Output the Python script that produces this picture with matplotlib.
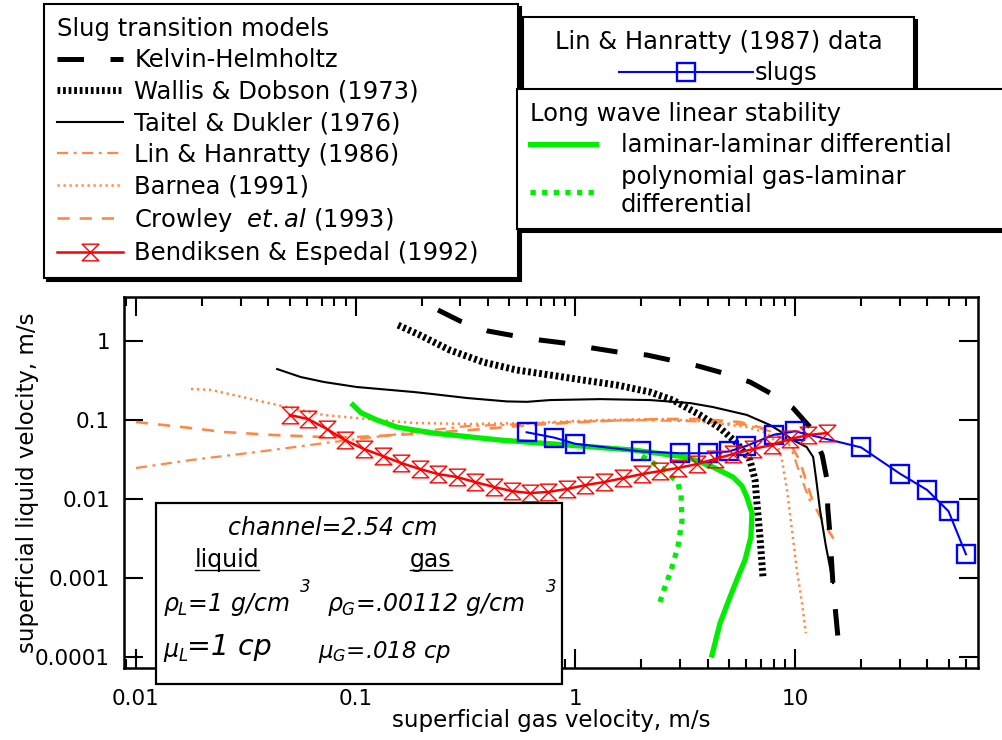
import numpy as np
import matplotlib
matplotlib.use('Agg')
import matplotlib.pyplot as plt
from matplotlib.lines import Line2D
from matplotlib.patches import Rectangle
from matplotlib.path import Path
from matplotlib.ticker import FixedLocator, FixedFormatter, NullLocator, NullFormatter, LogLocator

plt.rcParams['font.family'] = ['DejaVu Sans']

# Slug transition models (gas velocity, liquid velocity)
kh_x = [0.237, 0.299, 0.40, 0.505, 0.69, 0.90, 1.20, 1.56, 2.12, 2.70, 3.62, 4.70, 6.24, 7.69,
        9.79, 11.7, 13.3, 14.0, 14.1, 14.4, 14.9, 15.7]
kh_y = [2.47, 1.79, 1.34, 1.19, 1.03, 0.94, 0.815, 0.726, 0.665, 0.575, 0.483, 0.394, 0.303, 0.22,
        0.142, 0.0815, 0.036, 0.0174, 0.0077, 0.0038, 0.00081, 0.000174]

wd_x = [0.156, 0.196, 0.268, 0.38, 0.54, 0.77, 1.08, 1.55, 2.19, 2.78, 3.69, 4.56, 5.44, 6.24,
        6.58, 6.71, 6.93, 7.15]
wd_y = [1.59, 1.19, 0.769, 0.542, 0.43, 0.371, 0.321, 0.277, 0.226, 0.179, 0.116, 0.079, 0.051,
        0.031, 0.0174, 0.0089, 0.0033, 0.00103]

td_x = [0.0439, 0.0563, 0.0718, 0.101, 0.185, 0.225, 0.321, 0.489, 0.603, 0.767, 1.30, 2.19, 3.33,
        4.23, 6.04, 7.69, 8.82, 9.79, 11.3, 12.1, 12.5, 13.0, 13.8, 14.9]
td_y = [0.442, 0.350, 0.303, 0.262, 0.226, 0.213, 0.190, 0.172, 0.170, 0.179, 0.184, 0.179, 0.164,
        0.146, 0.116, 0.0865, 0.0685, 0.0558, 0.0455, 0.034, 0.0174, 0.00726, 0.00262, 0.000865]

lh_x = [0.01, 0.0178, 0.0356, 0.0718, 0.145, 0.225, 0.321, 0.454, 0.917, 1.83, 3.22, 4.23, 6.04,
        7.94, 9.20, 9.79, 10.5, 11.2, 11.9]
lh_y = [0.0247, 0.0312, 0.0394, 0.051, 0.0646, 0.0747, 0.0839, 0.0865, 0.0944, 0.1, 0.097, 0.0944,
        0.0865, 0.0705, 0.0558, 0.0382, 0.0213, 0.013, 0.0084]

barnea_x = [0.0178, 0.0220, 0.0279, 0.0383, 0.0508, 0.0718, 0.101, 0.185, 0.331, 0.622, 1.30, 2.43,
            3.69, 6.04, 7.46, 8.28, 8.73, 9.20, 9.69, 10.2, 10.8, 11.2]
barnea_y = [0.247, 0.240, 0.207, 0.169, 0.142, 0.1157, 0.106, 0.0917, 0.089, 0.0917, 0.1, 0.103,
            0.097, 0.0815, 0.0685, 0.051, 0.031, 0.013, 0.00405, 0.00126, 0.000455, 0.000201]

crowley_x = [0.01, 0.0178, 0.0252, 0.0425, 0.0718, 0.101, 0.185, 0.331, 0.622, 1.30, 2.43, 3.69,
             5.62, 7.69, 9.48, 10.5, 11.2, 12.2, 13.7, 15.1]
crowley_y = [0.0944, 0.0792, 0.0705, 0.0646, 0.061, 0.061, 0.0665, 0.0747, 0.0865, 0.097, 0.103,
             0.103, 0.0944, 0.0747, 0.051, 0.031, 0.0174, 0.0084, 0.00469, 0.00303]

be_x = [0.0502, 0.0607, 0.0741, 0.0893, 0.109, 0.133, 0.161, 0.196, 0.237, 0.289, 0.349, 0.427,
        0.515, 0.622, 0.752, 0.917, 1.11, 1.35, 1.65, 2.01, 2.43, 2.93, 3.58, 4.32, 5.22, 6.44,
        7.85, 9.48, 11.5, 14.0]
be_y = [0.1157, 0.103, 0.0769, 0.0558, 0.0430, 0.0350, 0.0286, 0.0240, 0.0207, 0.0190, 0.0164,
        0.0142, 0.0126, 0.0119, 0.0123, 0.0134, 0.0150, 0.0164, 0.0184, 0.0207, 0.0226, 0.0247,
        0.0277, 0.0321, 0.0371, 0.0430, 0.0483, 0.0574, 0.0646, 0.0685]

# Lin & Hanratty (1987) slug data
slug_x = [0.6, 0.8, 1, 2, 3, 4, 5, 6, 8, 10, 20, 30, 40, 50, 60]
slug_y = [0.07, 0.06, 0.05, 0.04, 0.038, 0.038, 0.04, 0.047, 0.065, 0.072, 0.045, 0.021, 0.013,
          0.007, 0.002]

# Long wave linear stability
lam_x = [0.0973, 0.106, 0.125, 0.154, 0.185, 0.225, 0.454, 0.917, 1.83, 3.22, 4.23, 5.22, 5.74,
         6.04, 6.37, 6.30, 5.92, 5.50, 5.06, 4.56, 4.19]
lam_y = [0.155, 0.123, 0.1, 0.0815, 0.0747, 0.0685, 0.0558, 0.0483, 0.0417, 0.034, 0.0254, 0.019,
         0.0146, 0.0106, 0.00665, 0.0033, 0.00169, 0.00103, 0.000574, 0.000269, 0.000106]

poly_x = [2.01, 2.26, 2.48, 2.70, 2.93, 3.03, 3.06, 2.93, 2.73, 2.53, 2.38]
poly_y = [0.035, 0.0286, 0.0247, 0.0201, 0.016, 0.0112, 0.00542, 0.00247, 0.00126, 0.000705,
          0.000417]

x_ticks = [0.01, 0.1, 1, 10]
x_ticklabels = ['0.01', '0.1', '1', '10']
y_ticks = [0.0001, 0.001, 0.01, 0.1, 1]
y_ticklabels = ['0.0001', '0.001', '0.01', '0.1', '1']

W, H = 1003, 740


def fx(px):
    return px / W


def fy(py):
    return 1 - py / H


orange = '#ff8844'
green = '#00ee00'
hourglass = Path([(-1, 1), (1, 1), (-1, -1), (1, -1), (-1, 1)],
                 [Path.MOVETO, Path.LINETO, Path.LINETO, Path.LINETO, Path.CLOSEPOLY])

fig = plt.figure(figsize=(W / 100, H / 100), dpi=100)
ax = fig.add_axes([fx(124), fy(668), fx(978) - fx(124), fy(297) - fy(668)])
ax.set_xscale('log')
ax.set_yscale('log')

lh, = ax.plot(lh_x, lh_y, color=orange, lw=1.6, dashes=(5, 2.5, 1.3, 2.5))
barnea, = ax.plot(barnea_x, barnea_y, color=orange, lw=1.8, dashes=(0.9, 1.5))
crowley, = ax.plot(crowley_x, crowley_y, color=orange, lw=1.9, dashes=(4.6, 3.8))
td, = ax.plot(td_x, td_y, color='k', lw=1.5)
wd, = ax.plot(wd_x, wd_y, color='k', lw=5, dashes=(0.4, 0.4))
kh, = ax.plot(kh_x, kh_y, color='k', lw=3.6, dashes=(5.3, 5.3))
lam, = ax.plot(lam_x, lam_y, color=green, lw=3.8)
poly, = ax.plot(poly_x, poly_y, color=green, lw=3.8, dashes=(1, 1.2))
slugs, = ax.plot(slug_x, slug_y, color='#0000ff', lw=1.5, marker='s', ms=12.5, mfc='none', mew=1.7)
be, = ax.plot(be_x, be_y, color='#ff0000', lw=1.8, marker=hourglass, ms=12, mfc='none', mew=1.0)

ax.set_xlim(0.00882, 68.1)
ax.set_ylim(7.26e-5, 3.61)

ax.xaxis.set_major_locator(FixedLocator(x_ticks))
ax.xaxis.set_major_formatter(FixedFormatter(x_ticklabels))
ax.xaxis.set_minor_locator(LogLocator(base=10, subs=np.arange(2, 10)))
ax.xaxis.set_minor_formatter(NullFormatter())
ax.yaxis.set_major_locator(FixedLocator(y_ticks))
ax.yaxis.set_major_formatter(FixedFormatter(y_ticklabels))
ax.yaxis.set_minor_locator(NullLocator())

ax.tick_params(which='both', direction='in', top=True, right=True, width=1.5, labelsize=15.5)
ax.tick_params(which='major', length=14)
ax.tick_params(which='minor', length=6.5)
ax.tick_params(axis='x', which='major', pad=15)
ax.tick_params(axis='y', which='major', pad=10)
for sp in ax.spines.values():
    sp.set_linewidth(1.8)

ax.set_xlabel('superficial gas velocity, m/s', fontsize=16.5, labelpad=0)
ax.set_ylabel('superficial liquid velocity, m/s', fontsize=16.5, labelpad=-3)

# fluid property box
ax.add_patch(Rectangle((fx(156), fy(684)), fx(562) - fx(156), fy(503) - fy(684),
                       transform=fig.transFigure, facecolor='white', edgecolor='k',
                       lw=1.6, clip_on=False, zorder=5))
tkw = dict(transform=fig.transFigure, zorder=6, va='center', style='italic')
ax.text(fx(333), fy(528), 'channel=2.54 cm', ha='center', fontsize=17, **tkw)
t_liq = ax.text(fx(227), fy(560), 'liquid', ha='center', fontsize=17, transform=fig.transFigure,
                zorder=6, va='center')
t_gas = ax.text(fx(431), fy(560), 'gas', ha='center', fontsize=17, transform=fig.transFigure,
                zorder=6, va='center')
ax.text(fx(163), fy(605), r'$\rho_L$=1 g/cm', ha='left', fontsize=17, **tkw)
ax.text(fx(305), fy(587), '3', ha='center', fontsize=12, **tkw)
ax.text(fx(327), fy(605), r'$\rho_G$=.00112 g/cm', ha='left', fontsize=17, **tkw)
ax.text(fx(551), fy(587), '3', ha='center', fontsize=12, **tkw)
ax.text(fx(163), fy(652), r'$\mu_L$', ha='left', fontsize=17, **tkw)
ax.text(fx(187), fy(647), '=1 cp', ha='left', fontsize=20.5, **tkw)
ax.text(fx(318), fy(652), r'$\mu_G$=.018 cp', ha='left', fontsize=16.5, **tkw)

shadow = {'facecolor': 'k', 'edgecolor': 'k', 'alpha': 1}
lkw = dict(loc='upper left', mode='expand', borderaxespad=0, fontsize=17.5, title_fontsize=17.5,
           fancybox=False, framealpha=1, edgecolor='k', shadow=shadow, labelspacing=0.31,
           borderpad=0.52)

leg1 = fig.legend(handles=[kh, wd, td, lh, barnea, crowley, be],
                  labels=['Kelvin-Helmholtz', 'Wallis & Dobson (1973)', 'Taitel & Dukler (1976)',
                          'Lin & Hanratty (1986)', 'Barnea (1991)',
                          r'Crowley  $\mathit{et.al}$ (1993)', 'Bendiksen & Espedal (1992)'],
                  bbox_to_anchor=(fx(44), fy(275), fx(518) - fx(44), fy(4) - fy(275)),
                  title='Slug transition models', alignment='left',
                  handlelength=2.75, handletextpad=0.45, **lkw)
leg2 = fig.legend(handles=[slugs], labels=['slugs'],
                  bbox_to_anchor=(fx(523), fy(100), fx(914) - fx(523), fy(17) - fy(100)),
                  title='Lin & Hanratty (1987) data', alignment='center',
                  handlelength=5.5, handletextpad=0.1, **lkw)
# keep the single entry centred under the title
leg2._legend_handle_box.mode = 'fixed'
leg3 = fig.legend(handles=[lam, poly],
                  labels=['laminar-laminar differential', 'polynomial gas-laminar\ndifferential'],
                  bbox_to_anchor=(fx(517), fy(230), fx(1012) - fx(517), fy(89) - fy(230)),
                  title='Long wave linear stability', alignment='left',
                  handlelength=2.75, handletextpad=1.0, **lkw)
for leg in (leg1, leg2, leg3):
    leg.get_frame().set_linewidth(1.5)

# underline the column headers
fig.canvas.draw()
r = fig.canvas.get_renderer()
for t in (t_liq, t_gas):
    bb = t.get_window_extent(r)
    ax.add_line(Line2D([bb.x0 / W, bb.x1 / W], [fy(570), fy(570)], transform=fig.transFigure,
                       color='k', lw=1.0, zorder=6, clip_on=False))

fig.savefig('out.png', dpi=100)
